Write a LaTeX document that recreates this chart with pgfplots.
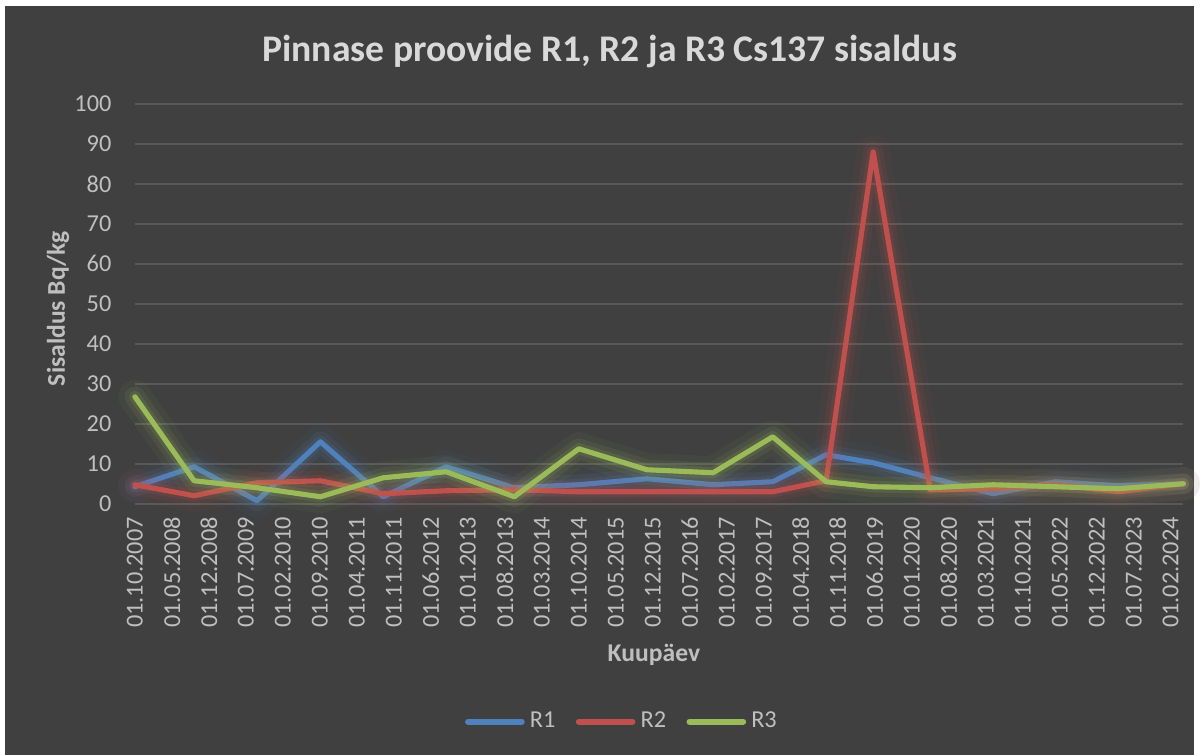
\documentclass[border=0pt]{standalone}
\usepackage{fontspec}
\setmainfont{Carlito}
\usepackage{pgfplots}
\usepackage{pgfplotstable}
\pgfplotsset{compat=1.18}

\definecolor{bg}{HTML}{404040}
\definecolor{gridc}{HTML}{595959}
\definecolor{txt}{HTML}{BFBFBF}
\definecolor{ttl}{HTML}{D9D9D9}
\definecolor{c1}{HTML}{4F81BD}
\definecolor{c2}{HTML}{C0504D}
\definecolor{c3}{HTML}{9BBB59}

% x = months since 01.10.2007
\pgfplotstableread{
m     r1     r2     r3
0     4.25   4.75   26.75
11.2  9.25   2.0    5.75
23.1  0.75   5.25   4.0
35.1  15.5   5.75   1.75
47.0  1.75   2.5    6.5
58.9  9.25   3.25   8.0
71.8  4.0    3.5    1.75
84.0  4.75   3.0    13.75
96.9  6.25   3.0    8.5
109.4 4.75   3.0    7.75
120.7 5.5    3.0    16.75
130.8 12.25  5.75   5.5
139.7 10.25  88.0   4.25
150.5 6.5    3.5    4.0
162.4 2.5    3.75   4.75
174.2 5.5    4.75   4.25
186.1 4.5    3.0    3.75
198.4 5.0    5.0    5.0
}\cs

\begin{document}
\begin{tikzpicture}
\begin{scope}[x=0.390625pt,y=-0.390625pt]
  \fill[white] (0,0) rectangle (1200,755);
  \fill[bg] (5,6) rectangle (1195,755);
  \useasboundingbox (0,0) rectangle (1200,755);
  \node[text=ttl, font=\fontsize{14.7}{17}\selectfont\bfseries] at (610,52)
    {Pinnase proovide R1, R2 ja R3 Cs137 sisaldus};
\end{scope}
\begin{axis}[
    at={(52.734pt,-196.875pt)}, anchor=south west,
    scale only axis, width=409.77pt, height=156.25pt,
    xmin=0, xmax=198.4, ymin=0, ymax=100,
    clip=false,
    axis line style={draw=none},
    major tick length=0pt,
    ymajorgrids, major grid style={gridc, line width=0.6pt},
    ytick={0,10,...,100},
    xtick={0,7,...,196},
    xticklabels={01.10.2007,01.05.2008,01.12.2008,01.07.2009,01.02.2010,01.09.2010,01.04.2011,01.11.2011,01.06.2012,01.01.2013,01.08.2013,01.03.2014,01.10.2014,01.05.2015,01.12.2015,01.07.2016,01.02.2017,01.09.2017,01.04.2018,01.11.2018,01.06.2019,01.01.2020,01.08.2020,01.03.2021,01.10.2021,01.05.2022,01.12.2022,01.07.2023,01.02.2024},
    /pgf/number format/assume math mode=true,
    ticklabel style={text=txt, font=\fontsize{9.5}{11}\selectfont, inner sep=0pt},
    xticklabel style={rotate=90, anchor=east},
    xticklabel shift=5pt,
    yticklabel shift=9pt,
    xlabel={Kuupäev},
    ylabel={Sisaldus Bq/kg},
    label style={text=txt, font=\fontsize{10}{12}\selectfont\bfseries},
    xlabel style={at={(axis description cs:0.495,-0.3775)}, anchor=center},
    ylabel style={at={(axis description cs:-0.0734,0.4875)}, anchor=center},
    legend columns=-1,
    legend style={at={(axis description cs:0.466,-0.545)}, anchor=center,
      draw=none, fill=none, text=txt, font=\fontsize{9.5}{11}\selectfont,
      /tikz/every even column/.append style={column sep=6pt},
      nodes={inner sep=2pt}},
    legend image code/.code={\draw[#1, line width=2.3pt] (0pt,0pt) -- (21pt,0pt);},
    every axis plot/.append style={line join=round, line cap=round},
  ]
  % R1
  \addplot[c1, line width=13pt, opacity=0.05, forget plot] table[x=m,y=r1]{\cs};
  \addplot[c1, line width=8pt, opacity=0.10, forget plot] table[x=m,y=r1]{\cs};
  \addplot[c1, line width=4.5pt, opacity=0.15, forget plot] table[x=m,y=r1]{\cs};
  \addplot[c1, line width=2pt] table[x=m,y=r1]{\cs};
  % R2
  \addplot[c2, line width=13pt, opacity=0.05, forget plot] table[x=m,y=r2]{\cs};
  \addplot[c2, line width=8pt, opacity=0.10, forget plot] table[x=m,y=r2]{\cs};
  \addplot[c2, line width=4.5pt, opacity=0.15, forget plot] table[x=m,y=r2]{\cs};
  \addplot[c2, line width=2pt] table[x=m,y=r2]{\cs};
  % R3
  \addplot[c3, line width=13pt, opacity=0.05, forget plot] table[x=m,y=r3]{\cs};
  \addplot[c3, line width=8pt, opacity=0.10, forget plot] table[x=m,y=r3]{\cs};
  \addplot[c3, line width=4.5pt, opacity=0.15, forget plot] table[x=m,y=r3]{\cs};
  \addplot[c3, line width=2pt] table[x=m,y=r3]{\cs};
  \legend{R1,R2,R3}
\end{axis}
\end{tikzpicture}
\end{document}
